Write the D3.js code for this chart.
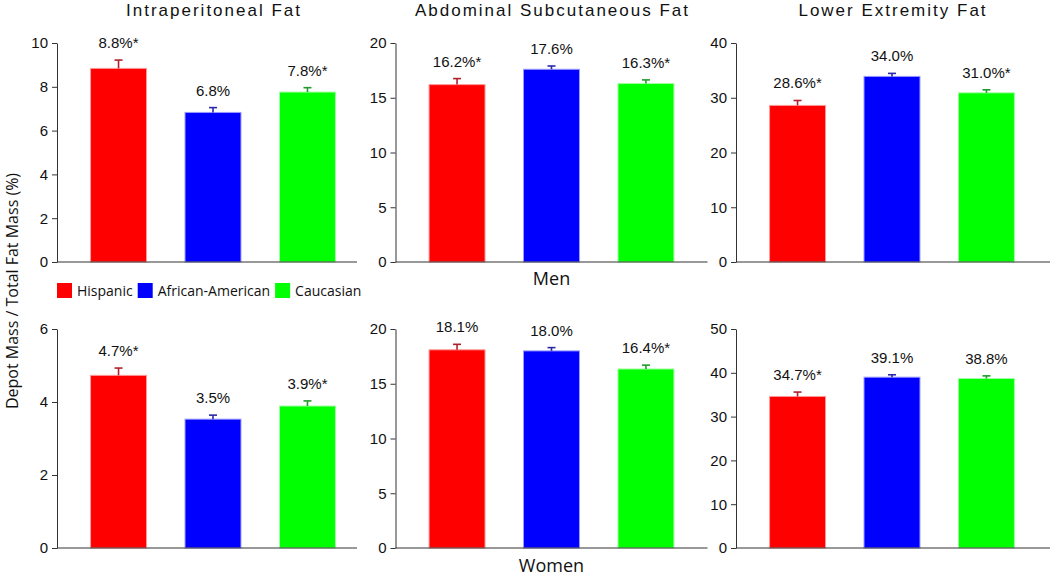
<!DOCTYPE html>
<html>
<head>
<meta charset="utf-8">
<script src="https://cdn.jsdelivr.net/npm/d3@7"></script>
<style>
  html, body { margin: 0; padding: 0; background: #fff; }
  svg { display: block; }
</style>
</head>
<body>
<svg id="chart" width="1050" height="578"></svg>
<script>
// ---- data ----
const groups = ["Hispanic", "African-American", "Caucasian"];
const depots = ["Intraperitoneal Fat", "Abdominal Subcutaneous Fat", "Lower Extremity Fat"];
const sexes = ["Men", "Women"];

const menValues   = [[8.84, 6.83, 7.76], [16.2, 17.6, 16.3], [28.6, 33.9, 30.9]];
const menErrors   = [[0.38, 0.22, 0.20], [0.55, 0.30, 0.33], [0.90, 0.55, 0.55]];
const menLabels   = [["8.8%*", "6.8%", "7.8%*"], ["16.2%*", "17.6%", "16.3%*"], ["28.6%*", "34.0%", "31.0%*"]];

const womenValues = [[4.73, 3.53, 3.89], [18.1, 18.0, 16.35], [34.6, 39.0, 38.7]];
const womenErrors = [[0.20, 0.11, 0.14], [0.50, 0.30, 0.35], [1.00, 0.55, 0.60]];
const womenLabels = [["4.7%*", "3.5%", "3.9%*"], ["18.1%", "18.0%", "16.4%*"], ["34.7%*", "39.1%", "38.8%"]];

const menYMax   = [10, 20, 40];
const womenYMax = [6, 20, 50];
const menTicks   = [[0, 2, 4, 6, 8, 10], [0, 5, 10, 15, 20], [0, 10, 20, 30, 40]];
const womenTicks = [[0, 2, 4, 6], [0, 5, 10, 15, 20], [0, 10, 20, 30, 40, 50]];

const yLabel = "Depot Mass / Total Fat Mass (%)";

// ---- styles ----
const barColors = ["#ff0000", "#0000ff", "#00ff00"];
const barEdges  = ["#ff9a9a", "#9a9aff", "#a0ffa0"];
const errColors = ["#b0202c", "#2a2aa8", "#229a2a"];

const svg = d3.select("#chart");

const panelX = [57, 395.5, 736];
const panelW = [300, 312, 314];
const rowTop = [43, 329];
const plotH = 219;
const bandRange = 312;

const rows = [
  {values: menValues, errors: menErrors, labels: menLabels, ymax: menYMax, ticks: menTicks},
  {values: womenValues, errors: womenErrors, labels: womenLabels, ymax: womenYMax, ticks: womenTicks}
];

rows.forEach((row, r) => {
  depots.forEach((depot, c) => {
    const x0 = panelX[c];
    const top = rowTop[r];
    const bottom = top + plotH;
    const g = svg.append("g");

    const x = d3.scaleBand().domain(groups)
      .range([x0, x0 + bandRange])
      .paddingInner(0.397).paddingOuter(0.35);
    const y = d3.scaleLinear().domain([0, row.ymax[c]]).range([bottom, top]);

    const data = groups.map((gname, i) => ({
      g: gname, i, v: row.values[c][i], e: row.errors[c][i], label: row.labels[c][i]
    }));

    // bars
    g.selectAll("rect.bar").data(data).join("rect")
      .attr("class", "bar")
      .attr("x", d => x(d.g) + 0.5)
      .attr("y", d => y(d.v))
      .attr("width", x.bandwidth() - 1)
      .attr("height", d => y(0) - y(d.v))
      .attr("fill", d => barColors[d.i])
      .attr("stroke", d => barEdges[d.i])
      .attr("stroke-width", 1);

    // error bars (upper only)
    const cx = d => x(d.g) + x.bandwidth() / 2;
    g.selectAll("line.err").data(data).join("line")
      .attr("x1", cx).attr("x2", cx)
      .attr("y1", d => y(d.v)).attr("y2", d => y(d.v + d.e))
      .attr("stroke", d => errColors[d.i]).attr("stroke-width", 1.6);
    g.selectAll("line.cap").data(data).join("line")
      .attr("x1", d => cx(d) - 4).attr("x2", d => cx(d) + 4)
      .attr("y1", d => y(d.v + d.e)).attr("y2", d => y(d.v + d.e))
      .attr("stroke", d => errColors[d.i]).attr("stroke-width", 1.6);

    // value labels
    g.selectAll("text.val").data(data).join("text")
      .attr("x", cx)
      .attr("y", d => y(d.v + d.e) - 12)
      .attr("text-anchor", "middle")
      .attr("font-family", "Liberation Sans, Arial, sans-serif")
      .attr("font-size", 15)
      .attr("fill", "#111")
      .text(d => d.label);

    // y axis
    const ax = g.append("g")
      .attr("transform", `translate(${x0},0)`)
      .call(d3.axisLeft(y).tickValues(row.ticks[c]).tickSize(5).tickSizeOuter(0).tickPadding(4)
        .tickFormat(d3.format("d")));
    ax.select(".domain").attr("stroke", "#333");
    ax.selectAll(".tick line").attr("stroke", "#333");
    ax.selectAll(".tick text")
      .attr("font-family", "Liberation Sans, Arial, sans-serif")
      .attr("font-size", 15)
      .attr("fill", "#111");

    // baseline
    g.append("line")
      .attr("x1", x0).attr("x2", Math.min(1050, x0 + panelW[c]))
      .attr("y1", y(0)).attr("y2", y(0))
      .attr("stroke", "#333").attr("stroke-width", 1);

    // titles (top row only)
    if (r === 0) {
      svg.append("text")
        .attr("x", x(groups[1]) + x.bandwidth() / 2 + 1)
        .attr("y", 16)
        .attr("text-anchor", "middle")
        .attr("font-family", "Liberation Sans, Arial, sans-serif")
        .attr("font-size", 17)
        .attr("letter-spacing", "2px")
        .attr("fill", "#111")
        .text(depot);
    }
    // sex labels under middle panel
    if (c === 1) {
      svg.append("text")
        .attr("x", x(groups[1]) + x.bandwidth() / 2)
        .attr("y", r === 0 ? 285 : 572)
        .attr("text-anchor", "middle")
        .attr("font-family", "Open Sans, sans-serif")
        .attr("font-size", 18)
        .attr("fill", "#111")
        .text(sexes[r]);
    }
  });
});

// y-axis label
svg.append("text")
  .attr("transform", "translate(17.5,291) rotate(-90)")
  .attr("text-anchor", "middle")
  .attr("font-family", "Open Sans, sans-serif")
  .attr("font-size", 16)
  .attr("fill", "#111")
  .text(yLabel);

// legend
const legend = svg.append("g");
let lx = 57;
groups.forEach((gname, i) => {
  legend.append("rect")
    .attr("x", lx).attr("y", 283).attr("width", 15).attr("height", 15)
    .attr("fill", barColors[i]);
  const t = legend.append("text")
    .attr("x", lx + 20).attr("y", 296)
    .attr("font-family", "Open Sans, sans-serif")
    .attr("font-size", 14)
    .attr("fill", "#111")
    .text(gname);
  lx = lx + 20 + t.node().getComputedTextLength() + 5;
});
</script>
</body>
</html>
